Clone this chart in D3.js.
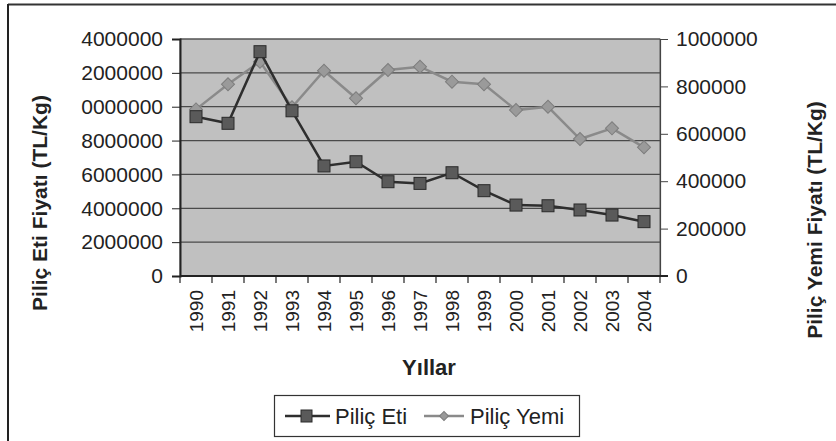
<!DOCTYPE html>
<html>
<head>
<meta charset="utf-8">
<script src="https://cdn.jsdelivr.net/npm/d3@7"></script>
<style>
  body { margin: 0; background: #fff; }
  svg text { font-family: "Liberation Sans", Arial, sans-serif; fill: #222; }
</style>
</head>
<body>
<div id="chart"></div>
<script>
// chart data
let years = ['1990','1991','1992','1993','1994','1995','1996','1997','1998','1999','2000','2001','2002','2003','2004']
let etiValues = [9410000, 9020000, 13250000, 9760000, 6500000, 6750000, 5570000, 5470000, 6100000, 5040000, 4190000, 4150000, 3900000, 3600000, 3210000]
let yemValues = [703000, 809000, 904000, 712000, 866000, 750000, 869000, 883000, 820000, 809000, 700000, 714000, 578000, 623000, 543000]
// left tick labels as printed (leading digit is cut off in the scan)
let leftTicks = [0, 2000000, 4000000, 6000000, 8000000, 10000000, 12000000, 14000000]
let leftTickLabels = ['0', '2000000', '4000000', '6000000', '8000000', '0000000', '2000000', '4000000']
let rightTicks = [0, 200000, 400000, 600000, 800000, 1000000]

let width = 836, height = 441
let plot = {left: 180, right: 660, top: 39, bottom: 276}

let svg = d3.select('#chart').append('svg')
    .attr('width', width)
    .attr('height', height)

// outer frame (only top and left edges visible in the scan)
svg.append('line').attr('x1', 8).attr('x2', width).attr('y1', 4.5).attr('y2', 4.5)
    .attr('stroke', '#333').attr('stroke-width', 2)
svg.append('line').attr('x1', 8).attr('x2', 8).attr('y1', 4).attr('y2', height)
    .attr('stroke', '#222').attr('stroke-width', 2)

let x = d3.scaleBand().domain(years).range([plot.left, plot.right])
let yLeft = d3.scaleLinear().domain([0, 14000000]).range([plot.bottom, plot.top])
let yRight = d3.scaleLinear().domain([0, 1000000]).range([plot.bottom, plot.top])

// plot background
svg.append('rect')
    .attr('x', plot.left).attr('y', plot.top)
    .attr('width', plot.right - plot.left).attr('height', plot.bottom - plot.top)
    .attr('fill', '#c0c0c0')
    .attr('stroke', '#666')

// gridlines
svg.append('g').selectAll('line')
    .data(leftTicks.slice(1))
    .enter().append('line')
    .attr('x1', plot.left).attr('x2', plot.right)
    .attr('y1', d => yLeft(d)).attr('y2', d => yLeft(d))
    .attr('stroke', '#4a4a4a').attr('stroke-width', 1.2)

// left axis
let leftAxis = svg.append('g')
    .attr('transform', `translate(${plot.left},0)`)
    .call(d3.axisLeft(yLeft).tickValues(leftTicks).tickSize(8).tickPadding(9)
        .tickFormat((d, i) => leftTickLabels[i]))
leftAxis.select('.domain').attr('stroke', '#222').attr('stroke-width', 2)
leftAxis.selectAll('line').attr('stroke', '#222')
leftAxis.selectAll('text').style('font-size', '21px').attr('fill', '#222')

// right axis
let rightAxis = svg.append('g')
    .attr('transform', `translate(${plot.right},0)`)
    .call(d3.axisRight(yRight).tickValues(rightTicks).tickSize(8).tickPadding(8)
        .tickFormat(d3.format('d')))
rightAxis.select('.domain').attr('stroke', '#444').attr('stroke-width', 1.2)
rightAxis.selectAll('line').attr('stroke', '#444')
rightAxis.selectAll('text').style('font-size', '21px').attr('fill', '#222')

// bottom axis: ticks between categories
let bottomAxis = svg.append('g')
    .attr('transform', `translate(0,${plot.bottom})`)
bottomAxis.append('line')
    .attr('x1', plot.left).attr('x2', plot.right + 8)
    .attr('stroke', '#222').attr('stroke-width', 2)
bottomAxis.selectAll('.tk')
    .data(years.concat(['end']))
    .enter().append('line')
    .attr('class', 'tk')
    .attr('x1', (d, i) => plot.left + i * x.step())
    .attr('x2', (d, i) => plot.left + i * x.step())
    .attr('y1', 0).attr('y2', 7)
    .attr('stroke', '#222').attr('stroke-width', 1.2)
bottomAxis.selectAll('text')
    .data(years)
    .enter().append('text')
    .attr('transform', d => `translate(${x(d) + x.bandwidth() / 2 + 7},14) rotate(-90)`)
    .attr('text-anchor', 'end')
    .style('font-size', '19px')
    .text(d => d)

// axis titles
svg.append('text')
    .attr('transform', 'translate(47,203) rotate(-90)')
    .attr('text-anchor', 'middle')
    .style('font-size', '21px').style('font-weight', 'bold')
    .text('Piliç Eti Fiyatı (TL/Kg)')
svg.append('text')
    .attr('transform', 'translate(822,220) rotate(-90)')
    .attr('text-anchor', 'middle')
    .style('font-size', '21px').style('font-weight', 'bold')
    .text('Piliç Yemi Fiyatı (TL/Kg)')
svg.append('text')
    .attr('x', 429).attr('y', 375)
    .attr('text-anchor', 'middle')
    .style('font-size', '22px').style('font-weight', 'bold')
    .text('Yıllar')

let cx = d => x(d) + x.bandwidth() / 2
let diamond = d3.symbol().type(d3.symbolSquare).size(85)

// Piliç Yemi (right axis)
let yemLine = d3.line().x((d, i) => cx(years[i])).y(d => yRight(d))
svg.append('path').datum(yemValues)
    .attr('d', yemLine)
    .attr('fill', 'none').attr('stroke', '#8a8a8a').attr('stroke-width', 2.5)
svg.append('g').selectAll('path')
    .data(yemValues)
    .enter().append('path')
    .attr('d', diamond)
    .attr('transform', (d, i) => `translate(${cx(years[i])},${yRight(d)}) rotate(45)`)
    .attr('fill', '#9a9a9a').attr('stroke', '#7d7d7d')

// Piliç Eti (left axis)
let etiLine = d3.line().x((d, i) => cx(years[i])).y(d => yLeft(d))
svg.append('path').datum(etiValues)
    .attr('d', etiLine)
    .attr('fill', 'none').attr('stroke', '#2e2e2e').attr('stroke-width', 2.5)
svg.append('g').selectAll('rect')
    .data(etiValues)
    .enter().append('rect')
    .attr('x', (d, i) => cx(years[i]) - 6)
    .attr('y', d => yLeft(d) - 6)
    .attr('width', 12).attr('height', 12)
    .attr('fill', '#5a5a5a').attr('stroke', '#2a2a2a')

// legend
let legend = svg.append('g')
legend.append('rect')
    .attr('x', 274.5).attr('y', 395.5).attr('width', 305).attr('height', 41)
    .attr('fill', '#fff').attr('stroke', '#333').attr('stroke-width', 1.2)
legend.append('line').attr('x1', 285).attr('x2', 330).attr('y1', 416).attr('y2', 416)
    .attr('stroke', '#2e2e2e').attr('stroke-width', 2.5)
legend.append('rect').attr('x', 301).attr('y', 410).attr('width', 11).attr('height', 12)
    .attr('fill', '#5a5a5a').attr('stroke', '#2a2a2a')
legend.append('text').attr('x', 335).attr('y', 424)
    .style('font-size', '22px').text('Piliç Eti')
legend.append('line').attr('x1', 424).attr('x2', 464).attr('y1', 416).attr('y2', 416)
    .attr('stroke', '#8a8a8a').attr('stroke-width', 2.5)
legend.append('path').attr('d', d3.symbol().type(d3.symbolSquare).size(40))
    .attr('transform', 'translate(444,416) rotate(45)')
    .attr('fill', '#9a9a9a').attr('stroke', '#7d7d7d')
legend.append('text').attr('x', 470).attr('y', 424)
    .style('font-size', '22px').text('Piliç Yemi')
</script>
</body>
</html>
